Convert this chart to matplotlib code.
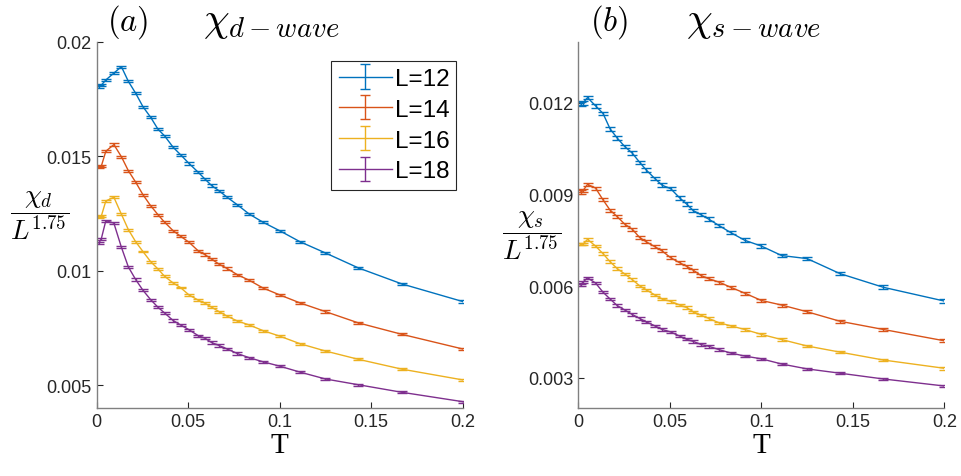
import numpy as np
import matplotlib
matplotlib.use('Agg')
import matplotlib.pyplot as plt
from matplotlib.ticker import FormatStrFormatter

plt.rcParams['mathtext.fontset'] = 'cm'
plt.rcParams['font.family'] = ['Liberation Sans', 'DejaVu Sans']

# temperatures (shared by all curves)
T = [0.0012, 0.0025, 0.005, 0.0094, 0.0135, 0.0173, 0.0213, 0.0253, 0.0295,
     0.0335, 0.0371, 0.0418, 0.0458, 0.0504, 0.0555, 0.0591, 0.0628, 0.0669,
     0.0713, 0.0769, 0.0833, 0.0909, 0.1, 0.1111, 0.125, 0.1429, 0.1667, 0.2]

labels = ['L=12', 'L=14', 'L=16', 'L=18']
colors = ['#0072BD', '#D95319', '#EDB120', '#7E2F8E']

# (a) chi_d / L^1.75
d_L12 = [0.01804, 0.0181, 0.01833, 0.01863, 0.01891, 0.01827, 0.01775, 0.01716,
         0.0167, 0.01618, 0.01589, 0.01539, 0.01507, 0.01469, 0.0143, 0.01401,
         0.01372, 0.01349, 0.01321, 0.01288, 0.01248, 0.01212, 0.01175, 0.01127,
         0.01078, 0.01013, 0.00943, 0.00866]
d_L14 = [0.01452, 0.01456, 0.01522, 0.01551, 0.01498, 0.01437, 0.01387, 0.01332,
         0.01284, 0.01245, 0.01212, 0.01175, 0.01151, 0.01125, 0.01087, 0.01071,
         0.01051, 0.01029, 0.0101, 0.00983, 0.00959, 0.00925, 0.00895, 0.0086,
         0.00822, 0.00773, 0.00723, 0.00659]
d_L16 = [0.01234, 0.01238, 0.01305, 0.01321, 0.01247, 0.0118, 0.01127, 0.01084,
         0.0104, 0.01008, 0.00976, 0.00947, 0.00927, 0.00895, 0.00872, 0.00859,
         0.00841, 0.00822, 0.00802, 0.00781, 0.00764, 0.00739, 0.00715, 0.00682,
         0.0065, 0.00614, 0.00571, 0.00524]
d_L18 = [0.01122, 0.01139, 0.01219, 0.01208, 0.01103, 0.01017, 0.00962, 0.00915,
         0.00874, 0.00841, 0.00816, 0.00783, 0.00764, 0.00743, 0.00717, 0.00706,
         0.00687, 0.00674, 0.00659, 0.00639, 0.00621, 0.00603, 0.00584, 0.00558,
         0.00528, 0.00503, 0.0047, 0.00429]
d_err = [5e-5, 5e-5, 4e-5, 5e-5]

# (b) chi_s / L^1.75
s_L12 = [0.01197, 0.01199, 0.01217, 0.0119, 0.01165, 0.01115, 0.01084, 0.01057,
         0.01035, 0.01005, 0.0098, 0.00952, 0.0093, 0.00919, 0.00888, 0.00869,
         0.00847, 0.00834, 0.00819, 0.00798, 0.00775, 0.0075, 0.00731, 0.007,
         0.0069, 0.00641, 0.00596, 0.00551]
s_L14 = [0.00908, 0.00912, 0.00933, 0.00921, 0.00882, 0.00849, 0.00827, 0.00803,
         0.00786, 0.00759, 0.00745, 0.00729, 0.00715, 0.00693, 0.00676, 0.00665,
         0.00652, 0.00635, 0.00624, 0.00613, 0.00596, 0.00577, 0.00553, 0.00538,
         0.00516, 0.00485, 0.00458, 0.00421]
s_L16 = [0.00737, 0.00737, 0.00753, 0.00731, 0.00706, 0.0068, 0.00657, 0.0064,
         0.00621, 0.00601, 0.00588, 0.00571, 0.00558, 0.0055, 0.00538, 0.0053,
         0.00516, 0.00505, 0.00494, 0.0048, 0.0047, 0.00458, 0.00442, 0.00425,
         0.00404, 0.00384, 0.00358, 0.00331]
s_L18 = [0.00604, 0.00613, 0.00627, 0.0061, 0.0058, 0.00558, 0.00536, 0.00522,
         0.00507, 0.00494, 0.00483, 0.0047, 0.00458, 0.0045, 0.00436, 0.00426,
         0.00419, 0.00409, 0.00403, 0.00392, 0.00381, 0.00371, 0.00362, 0.00345,
         0.00329, 0.00315, 0.00296, 0.00273]
s_err = [6e-5, 5e-5, 4e-5, 4e-5]

AX_COL = '#808080'
TXT_COL = '#262626'


def style_axes(ax, ylim, yticks):
    ax.set_xlim(0, 0.2)
    ax.set_ylim(*ylim)
    ax.set_xticks([0, 0.05, 0.1, 0.15, 0.2])
    ax.set_yticks(yticks)
    ax.xaxis.set_major_formatter(FormatStrFormatter('%g'))
    ax.yaxis.set_major_formatter(FormatStrFormatter('%g'))
    for s in ['top', 'right']:
        ax.spines[s].set_visible(False)
    for s in ['left', 'bottom']:
        ax.spines[s].set_color(AX_COL)
        ax.spines[s].set_linewidth(1.0)
    ax.tick_params(direction='in', length=4, width=0.8, color=TXT_COL,
                   labelsize=13, labelcolor=TXT_COL)
    ax.set_xlabel('T', family='Liberation Serif', fontsize=21, color='k',
                  labelpad=1)


fig = plt.figure(figsize=(9.62, 4.77), dpi=100)
ax1 = fig.add_axes([0.1005, 0.1419, 0.3805, 0.7686])
ax2 = fig.add_axes([0.6012, 0.1419, 0.3805, 0.7686])

for vals, err, c, lab in zip([d_L12, d_L14, d_L16, d_L18], d_err, colors, labels):
    ax1.errorbar(T, vals, yerr=err, color=c, lw=1.0, capsize=3.5, capthick=1.0,
                 elinewidth=1.0, label=lab)
for vals, err, c in zip([s_L12, s_L14, s_L16, s_L18], s_err, colors):
    ax2.errorbar(T, vals, yerr=err, color=c, lw=1.0, capsize=3.5, capthick=1.0,
                 elinewidth=1.0)

style_axes(ax1, (0.004, 0.02), [0.005, 0.01, 0.015, 0.02])
style_axes(ax2, (0.002, 0.014), [0.003, 0.006, 0.009, 0.012])

leg = ax1.legend(loc='upper right', bbox_to_anchor=(0.983, 0.948), fontsize=17.5,
                 handlelength=2.2, handletextpad=0.1, borderpad=0.3,
                 labelspacing=0.36, borderaxespad=0, fancybox=False,
                 framealpha=1)
leg.get_frame().set_edgecolor(TXT_COL)
leg.get_frame().set_linewidth(0.8)

# panel titles
ax1.text(0.027, 1.032, r'$(a)$', transform=ax1.transAxes, fontsize=23.5,
         va='baseline', ha='left')
ax1.text(0.29, 1.032, r'$\chi_{d-wave}$', transform=ax1.transAxes,
         fontsize=29.5, va='baseline', ha='left')
ax2.text(0.032, 1.032, r'$(b)$', transform=ax2.transAxes, fontsize=23.5,
         va='baseline', ha='left')
ax2.text(0.295, 1.032, r'$\chi_{s-wave}$', transform=ax2.transAxes,
         fontsize=29.5, va='baseline', ha='left')

# y labels
fig.text(0.041, 1 - 216 / 477, r'$\dfrac{\chi_d}{L^{1.75}}$', fontsize=19.5,
         ha='center', va='center')
fig.text(0.552, 1 - 236 / 477, r'$\dfrac{\chi_s}{L^{1.75}}$', fontsize=19.5,
         ha='center', va='center')

fig.savefig('out.png', dpi=100)
